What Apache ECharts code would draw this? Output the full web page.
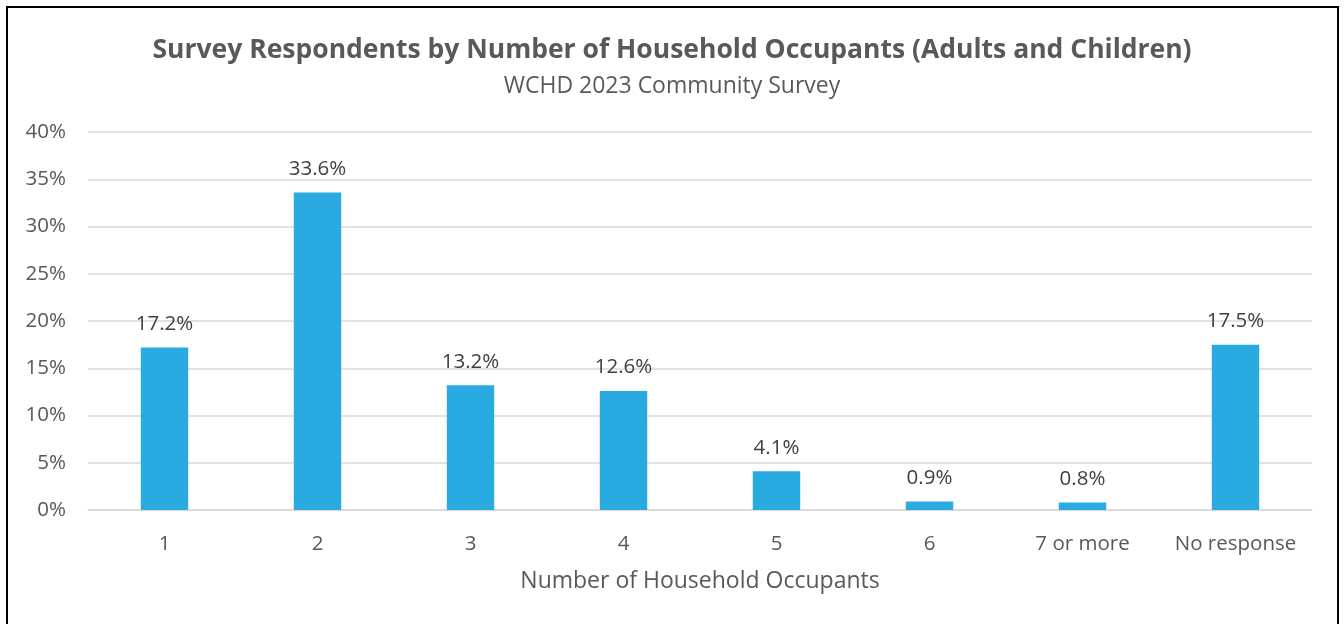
<!DOCTYPE html>
<html>
<head>
<meta charset="utf-8">
<script src="https://cdn.jsdelivr.net/npm/echarts@6/dist/echarts.min.js"></script>
<style>
  html, body { margin: 0; padding: 0; background: #fff; }
  #chart { width: 1344px; height: 624px; }
</style>
</head>
<body>
<div id="chart"></div>
<script>
// household size categories
const categories = ["1", "2", "3", "4", "5", "6", "7 or more", "No response"];
// share of respondents, percent
const shares = [17.2, 33.6, 13.2, 12.6, 4.1, 0.9, 0.8, 17.5];
const yTicks = [0, 5, 10, 15, 20, 25, 30, 35, 40];

const font = "'Open Sans', 'Noto Sans', sans-serif";
const myChart = echarts.init(document.getElementById("chart"));

let option = {
  backgroundColor: "#fff",
  animation: false,
  title: {
    text: "Survey Respondents by Number of Household Occupants (Adults and Children)",
    subtext: "WCHD 2023 Community Survey",
    left: "center",
    top: 32,
    itemGap: 11,
    textStyle: { color: "#595959", fontSize: 26.5, fontWeight: "bold", fontFamily: font },
    subtextStyle: { color: "#595959", fontSize: 23, fontFamily: font },
  },
  graphic: [
    {
      type: "rect",
      shape: { x: 7, y: 7, width: 1331, height: 640 },
      style: { fill: "none", stroke: "#000", lineWidth: 2 },
      silent: true,
    },
  ],
  grid: { left: 88, right: 32, top: 132, bottom: 114 },
  xAxis: {
    type: "category",
    data: categories,
    name: "Number of Household Occupants",
    nameLocation: "middle",
    nameGap: 60,
    nameTextStyle: { color: "#595959", fontSize: 23, fontFamily: font },
    axisTick: { show: false },
    axisLine: { lineStyle: { color: "#d9d9d9", width: 1.5 } },
    axisLabel: { color: "#595959", fontSize: 20.5, fontFamily: font, margin: 24, interval: 0 },
  },
  yAxis: {
    type: "value",
    min: yTicks[0],
    max: yTicks[yTicks.length - 1],
    interval: 5,
    axisLine: { show: false },
    axisTick: { show: false },
    splitLine: { lineStyle: { color: "#d9d9d9", width: 1.5 } },
    axisLabel: {
      color: "#595959",
      fontSize: 20.5,
      fontFamily: font,
      margin: 22,
      formatter: (v) => v + "%",
    },
  },
  series: [
    {
      type: "bar",
      data: shares,
      barWidth: "31%",
      itemStyle: { color: "#29abe2" },
      label: {
        show: true,
        position: "top",
        distance: 13,
        color: "#404040",
        fontSize: 20.5,
        fontFamily: font,
        formatter: (p) => p.value.toFixed(1) + "%",
      },
    },
  ],
};

myChart.setOption(option);
</script>
</body>
</html>
